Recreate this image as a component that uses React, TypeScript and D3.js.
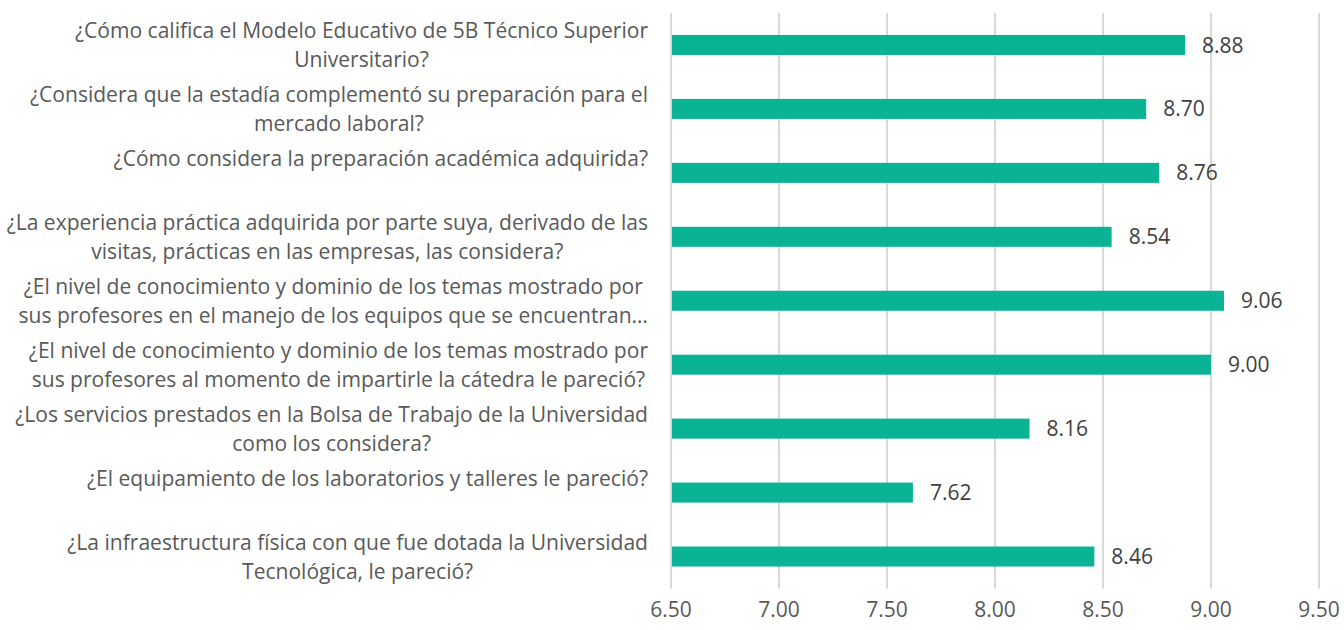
import React from "react";
import * as d3 from "d3";

const categories: string[][] = [
  ["¿Cómo califica el Modelo Educativo de 5B Técnico Superior", "Universitario?"],
  ["¿Considera que la estadía complementó su preparación para el", "mercado laboral?"],
  ["¿Cómo considera la preparación académica adquirida?"],
  ["¿La experiencia práctica adquirida por parte suya, derivado de las", "visitas, prácticas en las empresas, las considera?"],
  ["¿El nivel de conocimiento y dominio de los temas mostrado por", "sus profesores en el manejo de los equipos que se encuentran…"],
  ["¿El nivel de conocimiento y dominio de los temas mostrado por", "sus profesores al momento de impartirle la cátedra le pareció?"],
  ["¿Los servicios prestados en la Bolsa de Trabajo de la Universidad", "como los considera?"],
  ["¿El equipamiento de los laboratorios y talleres le pareció?"],
  ["¿La infraestructura física con que fue dotada la Universidad", "Tecnológica, le pareció?"],
];
const values: number[] = [8.88, 8.7, 8.76, 8.54, 9.06, 9.0, 8.16, 7.62, 8.46];
const ticks: number[] = [6.5, 7.0, 7.5, 8.0, 8.5, 9.0, 9.5];

const FONT = "'Open Sans', sans-serif";
const FS = 21;

function measure(text: string): number {
  const c = document.createElement("canvas");
  const ctx = c.getContext("2d")!;
  ctx.font = `${FS}px 'Open Sans'`;
  return ctx.measureText(text).width;
}

export default function App() {
  const W = 1344;
  const H = 630;
  const x = d3.scaleLinear().domain([6.5, 9.5]).range([671, 1319]);
  const ids = categories.map((_, i) => String(i));
  const y = d3
    .scaleBand<string>()
    .domain(ids)
    .range([13, 588.5])
    .paddingInner(0.687)
    .paddingOuter(0.3435);
  const bw = y.bandwidth();

  // compression factor to mimic the narrow original font
  const k = 573 / measure(categories[0][0]);
  const labelRight = 648;
  const lineH = 29;

  return (
    <svg width={W} height={H} style={{ position: "absolute", left: 0, top: 0, background: "#fff" }}>
      <rect x={0} y={0} width={W} height={H} fill="#ffffff" />
      {ticks.map((t) => (
        <line key={"g" + t} x1={x(t)} x2={x(t)} y1={13} y2={588.5} stroke="#D9D9D9" strokeWidth={2} />
      ))}
      {values.map((v, i) => {
        const yy = y(String(i))!;
        return (
          <g key={"b" + i}>
            <rect x={x(6.5) + 1} y={yy} width={x(v) - x(6.5) - 1} height={bw} fill="#0BB395" />
            <text
              x={x(v) + 17}
              y={yy + bw / 2}
              dy="0.36em"
              fontFamily={FONT}
              fontSize={FS}
              fill="#404040"
            >
              {v.toFixed(2)}
            </text>
          </g>
        );
      })}
      {categories.map((lines, i) => {
        const cy = y(String(i))! + bw / 2;
        const widths = lines.map((l) => measure(l) * k);
        const maxW = Math.max(...widths);
        const cx = labelRight - maxW / 2;
        const first = lines.length === 1 ? cy - lineH / 2 : cy - ((lines.length - 1) * lineH) / 2;
        return (
          <g key={"l" + i}>
            {lines.map((l, j) => (
              <text
                key={j}
                x={cx}
                y={first + j * lineH}
                dy="0.36em"
                textAnchor="middle"
                fontFamily={FONT}
                fontSize={FS}
                fill="#595959"
                textLength={widths[j]}
                lengthAdjust="spacingAndGlyphs"
              >
                {l}
              </text>
            ))}
          </g>
        );
      })}
      {ticks.map((t) => (
        <text
          key={"t" + t}
          x={x(t)}
          y={609}
          dy="0.36em"
          textAnchor="middle"
          fontFamily={FONT}
          fontSize={FS}
          fill="#595959"
        >
          {t.toFixed(2)}
        </text>
      ))}
    </svg>
  );
}
